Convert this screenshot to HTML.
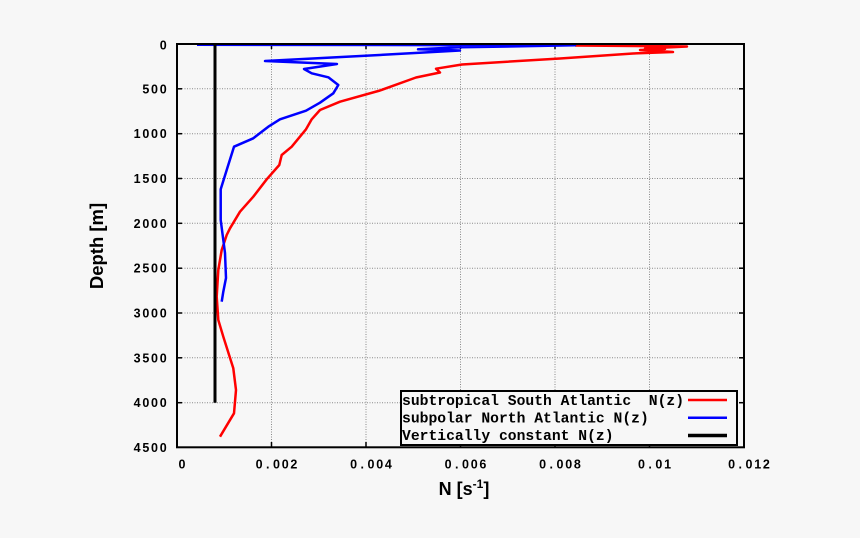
<!DOCTYPE html>
<html><head><meta charset="utf-8"><style>
html,body{margin:0;padding:0;background:#f7f7f7;}
svg{display:block;}
.t{font-family:"Liberation Sans",sans-serif;font-weight:bold;font-size:12.5px;fill:#000;}
.lg{font-family:"Liberation Mono",monospace;font-weight:bold;font-size:14.7px;fill:#000;}
.ax{font-family:"Liberation Sans",sans-serif;font-weight:bold;fill:#000;}
</style></head><body>
<svg width="860" height="538" viewBox="0 0 860 538" xmlns="http://www.w3.org/2000/svg">
<rect x="0" y="0" width="860" height="538" fill="#f7f7f7"/>
<!-- grid -->
<g stroke="#8a8a8a" stroke-width="1" stroke-dasharray="1,1.5" fill="none">
<line x1="271.5" y1="44" x2="271.5" y2="447"/>
<line x1="366" y1="44" x2="366" y2="447"/>
<line x1="460.5" y1="44" x2="460.5" y2="447"/>
<line x1="555" y1="44" x2="555" y2="447"/>
<line x1="649.5" y1="44" x2="649.5" y2="447"/>
<line x1="177" y1="88.8" x2="744" y2="88.8"/>
<line x1="177" y1="133.7" x2="744" y2="133.7"/>
<line x1="177" y1="178.5" x2="744" y2="178.5"/>
<line x1="177" y1="223.3" x2="744" y2="223.3"/>
<line x1="177" y1="268.2" x2="744" y2="268.2"/>
<line x1="177" y1="313" x2="744" y2="313"/>
<line x1="177" y1="357.8" x2="744" y2="357.8"/>
<line x1="177" y1="402.7" x2="744" y2="402.7"/>
</g>
<!-- ticks -->
<g stroke="#000" stroke-width="1.5">
<line x1="177" y1="88.8" x2="182" y2="88.8"/><line x1="744" y1="88.8" x2="739" y2="88.8"/>
<line x1="177" y1="133.7" x2="182" y2="133.7"/><line x1="744" y1="133.7" x2="739" y2="133.7"/>
<line x1="177" y1="178.5" x2="182" y2="178.5"/><line x1="744" y1="178.5" x2="739" y2="178.5"/>
<line x1="177" y1="223.3" x2="182" y2="223.3"/><line x1="744" y1="223.3" x2="739" y2="223.3"/>
<line x1="177" y1="268.2" x2="182" y2="268.2"/><line x1="744" y1="268.2" x2="739" y2="268.2"/>
<line x1="177" y1="313" x2="182" y2="313"/><line x1="744" y1="313" x2="739" y2="313"/>
<line x1="177" y1="357.8" x2="182" y2="357.8"/><line x1="744" y1="357.8" x2="739" y2="357.8"/>
<line x1="177" y1="402.7" x2="182" y2="402.7"/><line x1="744" y1="402.7" x2="739" y2="402.7"/>
<line x1="271.5" y1="44" x2="271.5" y2="49"/><line x1="271.5" y1="447" x2="271.5" y2="442"/>
<line x1="366" y1="44" x2="366" y2="49"/><line x1="366" y1="447" x2="366" y2="442"/>
<line x1="460.5" y1="44" x2="460.5" y2="49"/><line x1="460.5" y1="447" x2="460.5" y2="442"/>
<line x1="555" y1="44" x2="555" y2="49"/><line x1="555" y1="447" x2="555" y2="442"/>
<line x1="649.5" y1="44" x2="649.5" y2="49"/><line x1="649.5" y1="447" x2="649.5" y2="442"/>
</g>
<!-- series -->
<polyline fill="none" stroke="#ff0000" stroke-width="2.5" stroke-linejoin="round" points="575,45.5 687,46.5 645,48.5 665,49 640,50 673,52 633,53.5 560,58.5 462,64.5 436,68.7 440,72.5 416,77.5 380,90.5 340,101.7 320,110 311.7,119.3 306,129.3 291.7,146.7 281.7,155 279.3,165 266.7,179.3 253.3,196.7 240,211.7 230,228.3 226.7,235 221.7,250 218.3,270 216.7,296.7 218.3,320 223.3,336.7 233.3,368.3 236,390 234,413.3 220,436.7"/>
<polyline fill="none" stroke="#0000ff" stroke-width="2.5" stroke-linejoin="round" points="197,44.8 575,45.3 460,47.3 418,49.3 460,50.5 390,54.4 265,61 337,64 304,69 311.7,73.3 328.3,77.3 338.3,85 333.3,93.3 320,102.7 306,110.7 280,119.3 268.3,126.7 253.3,138.3 234,146.7 226.7,170 220.7,189.3 220.7,220 223.3,240 225,253 226,278 223.3,291.7 221.7,301.7"/>
<line x1="215" y1="44" x2="215" y2="402.7" stroke="#000" stroke-width="3"/>
<!-- frame -->
<rect x="177" y="44" width="567" height="403.3" fill="none" stroke="#000" stroke-width="2"/>
<!-- y tick labels -->
<g class="t" text-anchor="middle">
<text x="163.2" y="49.5">0</text>
<text x="145.8 154.5 163.2" y="93.3">500</text>
<text x="137.1 145.8 154.5 163.2" y="138.2">1000</text>
<text x="137.1 145.8 154.5 163.2" y="183">1500</text>
<text x="137.1 145.8 154.5 163.2" y="227.8">2000</text>
<text x="137.1 145.8 154.5 163.2" y="272.7">2500</text>
<text x="137.1 145.8 154.5 163.2" y="317.5">3000</text>
<text x="137.1 145.8 154.5 163.2" y="362.3">3500</text>
<text x="137.1 145.8 154.5 163.2" y="407.2">4000</text>
<text x="137.1 145.8 154.5 163.2" y="452">4500</text>
</g>
<!-- x tick labels -->
<g class="t" text-anchor="middle">
<text x="182" y="468.5">0</text>
<text x="259.1 267.8 276.5 285.2 293.9" y="468.5">0.002</text>
<text x="353.6 362.3 371 379.7 388.4" y="468.5">0.004</text>
<text x="448.1 456.8 465.5 474.2 482.9" y="468.5">0.006</text>
<text x="542.6 551.3 560 568.7 577.4" y="468.5">0.008</text>
<text x="641.45 650.15 658.85 667.55" y="468.5">0.01</text>
<text x="731.6 740.3 749 757.7 766.4" y="468.5">0.012</text>
</g>
<!-- axis labels -->
<text class="ax" font-size="18.5" text-anchor="middle" transform="translate(103,246) rotate(-90)">Depth [m]</text>
<text class="ax" font-size="18" x="464" y="495" text-anchor="middle">N [s<tspan font-size="12" dy="-7">-1</tspan><tspan dy="7">]</tspan></text>
<!-- legend -->
<rect x="401" y="391" width="336" height="54" fill="#f7f7f7" stroke="#000" stroke-width="2"/>
<text class="lg" x="402" y="405" xml:space="preserve" style="white-space:pre">subtropical South Atlantic  N(z)</text>
<text class="lg" x="402" y="422.5" xml:space="preserve" style="white-space:pre">subpolar North Atlantic N(z)</text>
<text class="lg" x="402" y="440" xml:space="preserve" style="white-space:pre">Vertically constant N(z)</text>
<line x1="688" y1="400" x2="727" y2="400" stroke="#ff0000" stroke-width="2.5"/>
<line x1="688" y1="417.7" x2="727" y2="417.7" stroke="#0000ff" stroke-width="2.5"/>
<line x1="688" y1="435.5" x2="727" y2="435.5" stroke="#000" stroke-width="3.5"/>
</svg>
</body></html>
